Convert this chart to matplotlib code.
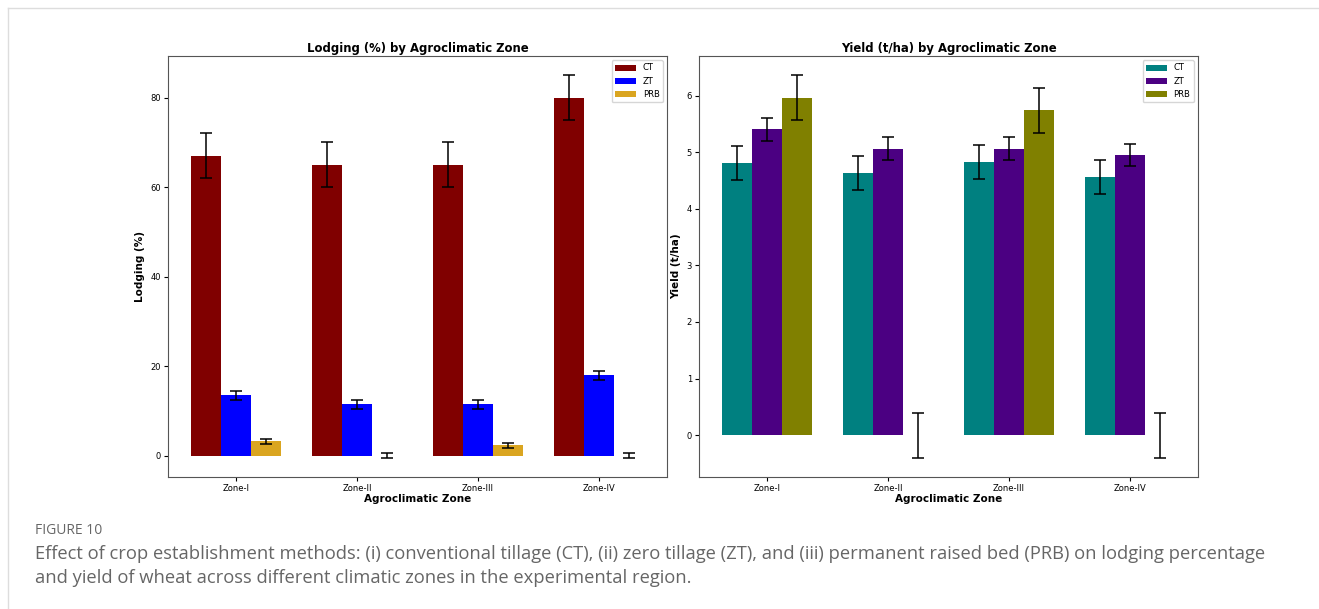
import numpy as np
from matplotlib import pyplot as plt
from matplotlib.lines import Line2D

zones = ["Zone-I", "Zone-II", "Zone-III", "Zone-IV"]
methods = ["CT", "ZT", "PRB"]

lodging_ct = [67, 65, 65, 80]
lodging_zt = [13.5, 11.5, 11.5, 18]
lodging_prb = [3.2, 0, 2.3, 0]
lodging_ct_err = [5, 5, 5, 5]
lodging_zt_err = [1, 1, 1, 1]
lodging_prb_err = [0.5, 0.5, 0.5, 0.5]

yield_ct = [4.81, 4.63, 4.83, 4.56]
yield_zt = [5.40, 5.06, 5.06, 4.95]
yield_prb = [5.96, 0, 5.74, 0]
yield_ct_err = [0.3, 0.3, 0.3, 0.3]
yield_zt_err = [0.2, 0.2, 0.2, 0.2]
yield_prb_err = [0.4, 0.4, 0.4, 0.4]

caption_head = "FIGURE 10"
caption_lines = [
    "Effect of crop establishment methods: (i) conventional tillage (CT), (ii) zero tillage (ZT), and (iii) permanent raised bed (PRB) on lodging percentage",
    "and yield of wheat across different climatic zones in the experimental region.",
]

fig = plt.figure(figsize=(13.19, 6.09), dpi=100)
W, H = 1319, 609

def px_axes(x0, y0, x1, y1):
    return fig.add_axes([x0 / W, 1 - y1 / H, (x1 - x0) / W, (y1 - y0) / H])

ax1 = px_axes(168, 56, 667, 477)
ax2 = px_axes(699, 56, 1198, 477)

x = np.arange(len(zones))
w = 0.25

def draw(ax, vals, errs, colors, title, ylabel):
    for i, (v, e, c, m) in enumerate(zip(vals, errs, colors, methods)):
        ax.bar(x + (i - 1) * w, v, w, yerr=e, color=c, label=m,
               capsize=4, error_kw=dict(elinewidth=1.1, capthick=1.1, ecolor="black"))
    ax.set_xticks(x)
    ax.set_xticklabels(zones)
    ax.set_title(title, fontsize=8.4, fontweight="bold", pad=3)
    ax.set_xlabel("Agroclimatic Zone", fontsize=7.5, fontweight="bold", labelpad=1)
    ax.set_ylabel(ylabel, fontsize=7.5, fontweight="bold")
    ax.tick_params(labelsize=6, length=3, pad=2)
    ax.legend(fontsize=6, loc="upper right", handlelength=2.5)
    for s in ax.spines.values():
        s.set_color("#555555")

draw(ax1, [lodging_ct, lodging_zt, lodging_prb],
     [lodging_ct_err, lodging_zt_err, lodging_prb_err],
     ["#800000", "#0000FF", "#DAA520"], "Lodging (%) by Agroclimatic Zone", "Lodging (%)")
draw(ax2, [yield_ct, yield_zt, yield_prb],
     [yield_ct_err, yield_zt_err, yield_prb_err],
     ["#008080", "#4B0082", "#808000"], "Yield (t/ha) by Agroclimatic Zone", "Yield (t/ha)")

# page border lines
fig.add_artist(Line2D([8 / W, 1], [1 - 8 / H, 1 - 8 / H], color="#dddddd", lw=1))
fig.add_artist(Line2D([8 / W, 8 / W], [0, 1 - 8 / H], color="#dddddd", lw=1))

fig.text(35 / W, 1 - 531 / H, caption_head, fontsize=10, color="#666666",
         family="Open Sans", va="center")
for k, line in enumerate(caption_lines):
    fig.text(35 / W, 1 - (554 + 24 * k) / H, line, fontsize=13.2, color="#666666",
             family="Open Sans", va="center")

fig.savefig("out.png", dpi=100)
